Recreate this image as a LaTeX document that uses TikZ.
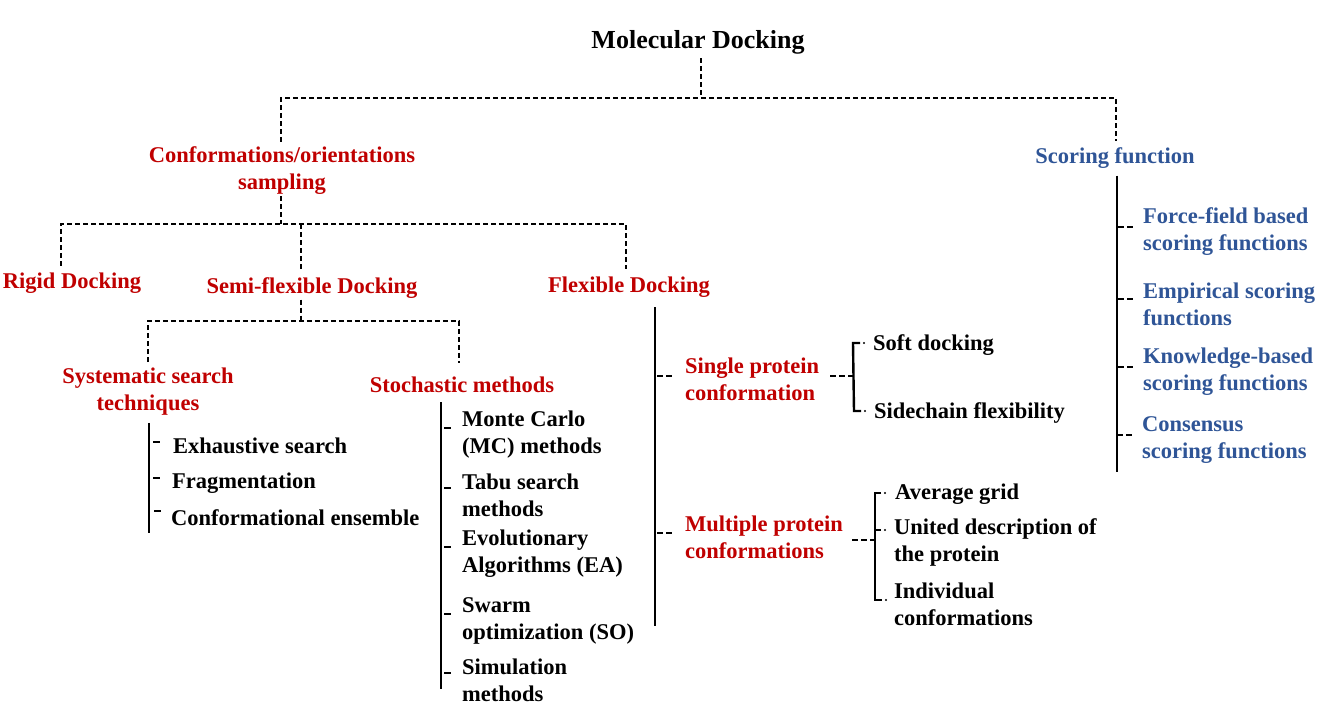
\documentclass[tikz,border=0pt]{standalone}
\usepackage{fontspec}
\setmainfont{Liberation Serif}
\definecolor{dred}{HTML}{C00000}
\definecolor{dblue}{HTML}{2F5597}
\begin{document}
\begin{tikzpicture}[x=1pt,y=-1pt,
 every node/.style={inner sep=0pt, font=\bfseries\fontsize{22.5}{27}\selectfont},
 rd/.style={text=dred},
 bl/.style={text=dblue},
 dl/.style={draw=black, line width=2.2pt, dash pattern=on 5pt off 3pt},
 tk/.style={draw=black, line width=2.2pt, dash pattern=on 6pt off 3pt},
 sl/.style={draw=black, line width=2.4pt},
 lt/.style={align=left, anchor=west},
 ct/.style={align=center}]
\useasboundingbox[fill=white] (0,0) rectangle (1342,713);

% nodes
\node[font=\bfseries\fontsize{26}{30}\selectfont] (md) at (698,42) {Molecular Docking};
\node[rd,ct] (cs) at (282,171) {Conformations/orientations\\sampling};
\node[bl] (sf) at (1115,158) {Scoring function};
\node[rd] (rig) at (72,283) {Rigid Docking};
\node[rd] (semi) at (312,288) {Semi-flexible Docking};
\node[rd] (flex) at (629,287) {Flexible Docking};
\node[rd,ct] (sys) at (148,392) {Systematic search\\techniques};
\node[rd] (sto) at (462,385) {Stochastic methods};

\node[lt] (ex) at (173,446) {Exhaustive search};
\node[lt] (fr) at (172,483) {Fragmentation};
\node[lt] (ce) at (171,518) {Conformational ensemble};

\node[lt] (mc) at (462,435) {Monte Carlo\\(MC) methods};
\node[lt] (tabu) at (462,495) {Tabu search\\methods};
\node[lt] (ea) at (462,554) {Evolutionary\\Algorithms (EA)};
\node[lt] (so) at (462,621) {Swarm\\optimization (SO)};
\node[lt] (sim) at (462,680) {Simulation\\methods};

\node[lt,rd] (single) at (685,379) {Single protein\\conformation};
\node[lt,rd] (multi) at (685,537) {Multiple protein\\conformations};
\node[lt] (soft) at (873,345) {Soft docking};
\node[lt] (side) at (874,413) {Sidechain flexibility};
\node[lt] (avg) at (895,494) {Average grid};
\node[lt] (united) at (894,542) {United description of\\the protein};
\node[lt] (indiv) at (894,604) {Individual\\conformations};

\node[lt,bl] (ff) at (1143,232) {Force-field based\\scoring functions};
\node[lt,bl] (emp) at (1143,304) {Empirical scoring\\functions};
\node[lt,bl] (kb) at (1143,372) {Knowledge-based\\scoring functions};
\node[lt,bl] (cons) at (1142,440) {Consensus\\scoring functions};

% junctions
\coordinate (j0) at (701,98);
\coordinate (j1) at (281,224);
\coordinate (j2) at (301,321);

% level 1
\draw[dl] ([xshift=3pt,yshift=-4pt]md.south) -- ([xshift=3pt]md.south |- j0);
\draw[dl] ([xshift=-1pt,yshift=5pt]cs.north) |- (j0) -| ([xshift=1pt,yshift=6pt]sf.north);

% level 2
\draw[dl] ([xshift=-1pt,yshift=-1pt]cs.south) -- ([xshift=-1pt]cs.south |- j1);
\draw[dl] ([xshift=-11pt,yshift=7pt]rig.north) |- (j1) -| ([xshift=-3pt,yshift=8pt]flex.north);
\draw[dl] ([xshift=-11pt]semi.north |- j1) -- ([xshift=-11pt,yshift=7pt]semi.north);

% semi-flexible
\draw[dl] ([xshift=-11pt,yshift=-1pt]semi.south) -- ([xshift=-11pt]semi.south |- j2);
\draw[dl] ([yshift=6pt]sys.north) |- (j2) -| ([xshift=-3pt,yshift=14pt]sto.north);

% systematic
\draw[sl] ([xshift=1pt,yshift=-7pt]sys.south) -- ++(0,110) coordinate (sysend);
\draw[sl] ([xshift=-20pt,yshift=4pt]ex.west) -- ([xshift=-13pt,yshift=4pt]ex.west);
\draw[sl] ([xshift=-19pt,yshift=5pt]fr.west) -- ([xshift=-12pt,yshift=5pt]fr.west);
\draw[sl] ([xshift=-17pt,yshift=7pt]ce.west) -- ([xshift=-10pt,yshift=7pt]ce.west);

% stochastic
\draw[sl] ([xshift=-21pt,yshift=-9pt]sto.south) -- ++(0,287) coordinate (stoend);
\foreach \n in {mc,tabu,ea,so,sim}
  \draw[sl] ([xshift=-18pt,yshift=7pt]\n.west) -- ([xshift=-11pt,yshift=7pt]\n.west);

% flexible
\draw[sl] ([xshift=26pt,yshift=-10pt]flex.south) -- ++(0,319) coordinate (flexend);
\draw[tk] ([xshift=-28pt,yshift=3pt]single.west) -- ([xshift=-12pt,yshift=3pt]single.west);
\draw[tk] ([xshift=-28pt,yshift=4pt]multi.west) -- ([xshift=-12pt,yshift=4pt]multi.west);

% single protein bracket
\draw[tk] ([xshift=11pt,yshift=3pt]single.east) -- ([xshift=-20pt,yshift=3pt]single.east -| soft.west);
\draw[sl] ([xshift=-13pt,yshift=2pt]soft.west) -- ([xshift=-20pt,yshift=2pt]soft.west) -- ([xshift=-20pt,yshift=2pt]side.west) -- ([xshift=-13pt,yshift=2pt]side.west);
\fill ([xshift=-9pt,yshift=2pt]soft.west) circle (1.2pt);
\fill ([xshift=-9pt,yshift=2pt]side.west) circle (1.2pt);

% multiple protein bracket
\draw[tk] ([xshift=9pt,yshift=-3pt]multi.east) -- ([xshift=-19pt,yshift=-3pt]multi.east -| avg.west);
\draw[sl] ([xshift=-14pt,yshift=1pt]avg.west) -- ([xshift=-20pt,yshift=1pt]avg.west) -- ([xshift=-19pt,yshift=4pt]indiv.west) -- ([xshift=-12pt,yshift=4pt]indiv.west);
\draw[sl] ([xshift=-19pt,yshift=12pt]united.west) -- ([xshift=-13pt,yshift=12pt]united.west);
\fill ([xshift=-10pt,yshift=1pt]avg.west) circle (1.2pt);
\fill ([xshift=-9pt,yshift=12pt]united.west) circle (1.2pt);
\fill ([xshift=-8pt,yshift=4pt]indiv.west) circle (1.2pt);

% scoring
\draw[sl] ([xshift=2pt,yshift=-7pt]sf.south) -- ++(0,296) coordinate (sfend);
\foreach \n in {ff,emp,kb,cons}
  \draw[tk] ([xshift=-25pt,yshift=5pt]\n.west) -- ([xshift=-10pt,yshift=5pt]\n.west);
\end{tikzpicture}
\end{document}
